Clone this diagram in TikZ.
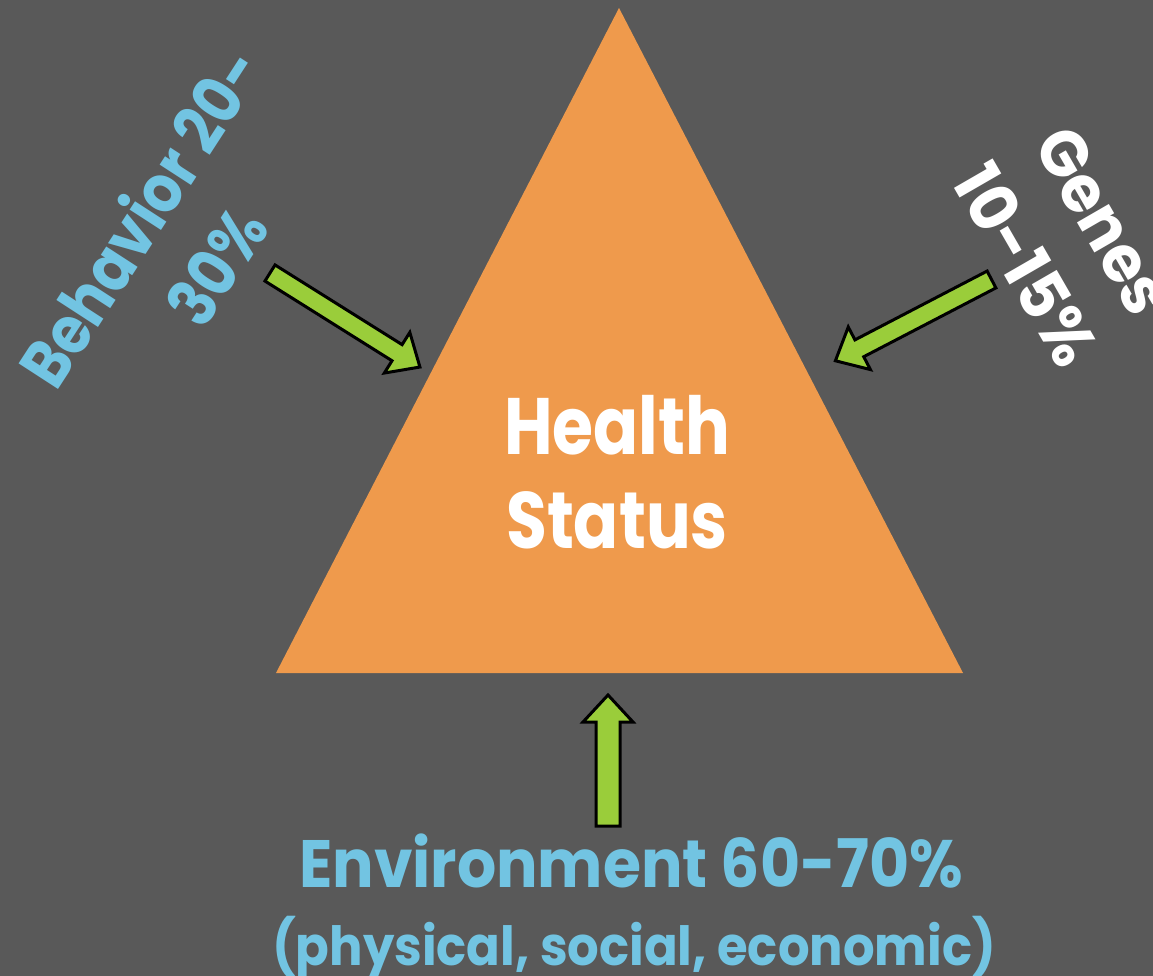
\documentclass[tikz,border=0pt]{standalone}
\usepackage{fontspec}
\setmainfont{Poppins}
\newfontfamily\popHS{Poppins}[FakeStretch=0.83]
\newfontfamily\popEnv{Poppins}[FakeStretch=0.92]
\newfontfamily\popBeh{Poppins}[FakeStretch=0.87]
\newfontfamily\popGen{Poppins}[FakeStretch=0.95]
\definecolor{bg}{HTML}{595959}
\definecolor{tri}{HTML}{EF9A4C}
\definecolor{lblue}{HTML}{72C4E2}
\definecolor{agreen}{HTML}{9ACD3A}
\tikzset{
  blockarrow/.style={fill=agreen, draw=black, line width=3pt, miter limit=10},
  lbl/.style={align=center, inner sep=0pt},
}
\begin{document}
\begin{tikzpicture}[x=1pt,y=-1pt]
\fill[bg] (0,0) rectangle (1153,976);
\useasboundingbox (0,0) rectangle (1153,976);
\fill[tri] (619,8) coordinate (apex) -- (963,673) coordinate (br) -- (276,673) coordinate (bl) -- cycle;
% Health status
\node[lbl, text=white, anchor=base, font=\popHS\bfseries\fontsize{80}{94}\selectfont] (health) at (617,454) {Health};
\node[lbl, text=white, anchor=base, font=\popHS\bfseries\fontsize{80}{94}\selectfont] (status) at (617,548) {Status};
% Behavior
\node[lbl, text=lblue, rotate=57, font=\popBeh\bfseries\fontsize{67}{90}\selectfont] (behavior) at (177,241) {Behavior 20-\\30\%};
% Genes
\node[lbl, text=white, rotate=-60, font=\popGen\bfseries\fontsize{66}{89}\selectfont] (genes) at (1064,243) {Genes\\10-15\%};
% Environment
\node[lbl, text=lblue, anchor=base, font=\popEnv\bfseries\fontsize{67}{80}\selectfont] (env) at (631,887) {Environment 60-70\%};
\node[lbl, text=lblue, anchor=base, font=\popEnv\bfseries\fontsize{54}{64}\selectfont] (env2) at (634,965) {(physical, social, economic)};
% arrows
\begin{scope}[shift={(270,273)}, rotate=-32.1]
\draw[blockarrow] (0,-9.5) -- (150,-9.5) -- (150,-24) -- (177,0) -- (150,24) -- (150,9.5) -- (0,9.5) -- cycle;
\end{scope}
\begin{scope}[shift={(991.5,279.5)}, rotate=207.5]
\draw[blockarrow] (0,-9.5) -- (149,-9.5) -- (149,-24) -- (176,0) -- (149,24) -- (149,9.5) -- (0,9.5) -- cycle;
\end{scope}
\begin{scope}[shift={(608,826)}, rotate=90]
\draw[blockarrow] (0,-12) -- (104,-12) -- (104,-25) -- (131,0) -- (104,25) -- (104,12) -- (0,12) -- cycle;
\end{scope}
\end{tikzpicture}
\end{document}
